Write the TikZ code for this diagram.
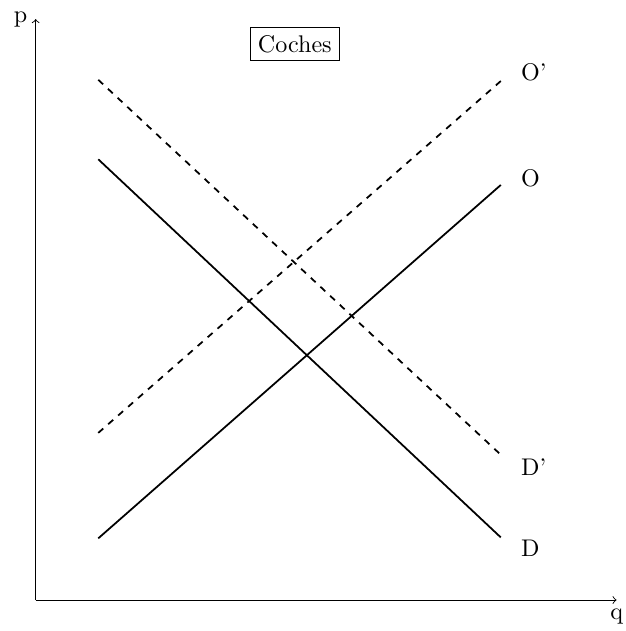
\documentclass[11pt,tikz,border=0pt]{standalone}
\usetikzlibrary{positioning}

\begin{document}
\begin{tikzpicture}[
    curve/.style={thick},
    shiftcurve/.style={thick, dashed},
    curvelabel/.style={anchor=west},
    >=to
]
\useasboundingbox (-0.57,-0.495) rectangle (9.43,9.585);

% Axes
\coordinate (origin) at (0,0);
\coordinate (ytop) at (0,9.28);
\coordinate (xend) at (9.28,0);
\draw [->] (origin) -- (ytop) node[left] (paxis) {p};
\draw [->] (origin) -- (xend) node[below] (qaxis) {q};

% Curve end points
\coordinate (Dstart) at (1,7.04);
\coordinate (Dend) at (7.43,1.0);
\coordinate (Ostart) at (1,0.985);
\coordinate (Oend) at (7.43,6.63);
\coordinate (Opstart) at (1,2.67);
\coordinate (Opend) at (7.43,8.29);
\coordinate (Dpstart) at (1,8.31);
\coordinate (Dpend) at (7.43,2.32);

% Curves
\draw [curve] (Dstart) -- (Dend);
\draw [curve] (Ostart) -- (Oend);
\draw [shiftcurve] (Opstart) -- (Opend);
\draw [shiftcurve] (Dpstart) -- (Dpend);

% Labels
\node (Oplabel) [curvelabel] at (7.62,8.43) {O'};
\node (Olabel) [curvelabel] at (7.62,6.74) {O};
\node (Dplabel) [curvelabel] at (7.62,2.12) {D'};
\node (Dlabel) [curvelabel] at (7.62,0.83) {D};

\node (title) [draw] at (4.14,8.88) {Coches};

\end{tikzpicture}
\end{document}
